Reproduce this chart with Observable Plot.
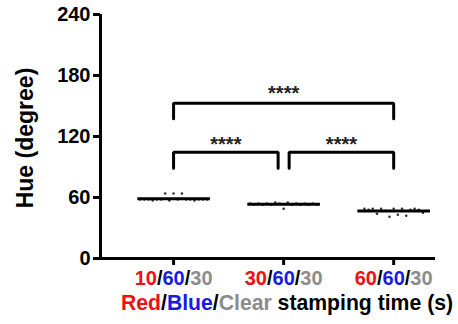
<!DOCTYPE html>
<html>
<head>
<meta charset="utf-8">
<script src="https://cdn.jsdelivr.net/npm/d3@7"></script>
<script src="https://cdn.jsdelivr.net/npm/@observablehq/plot@0.6"></script>
<style>
  html, body { margin: 0; padding: 0; background: #fff; }
  #chart svg { display: block; }
</style>
</head>
<body>
<div id="chart"></div>
<script>
// ---- data ----
const groups = ["10/60/30", "30/60/30", "60/60/30"];
const hueGroup1 = [58, 58, 58, 57, 58, 58, 64, 57, 64, 58, 64, 58, 58, 57, 58, 58, 58];
const hueGroup2 = [54, 53, 54, 53, 54, 53, 55, 54, 49, 55, 53, 54, 53, 54, 53, 54, 53];
const hueGroup3 = [49, 48, 49, 44, 49, 47, 41, 49, 43, 49, 42, 48, 49, 48, 45];
const yTicks = [0, 60, 120, 180, 240];
const comparisons = [
  { x1: 1, x2: 1.95, top: 104.5, foot: 88.8, starY: 117, label: "****" },
  { x1: 2.05, x2: 3, top: 104.5, foot: 88.8, starY: 117, label: "****" },
  { x1: 1, x2: 3, top: 152.7, foot: 137.4, starY: 167, label: "****" }
];
const yLabel = "Hue (degree)";
const xLabelParts = [
  { text: "Red", color: "#ee1111" },
  { text: "/", color: "#000" },
  { text: "Blue", color: "#1a1ae6" },
  { text: "/", color: "#000" },
  { text: "Clear", color: "#8c8c8c" },
  { text: " stamping time (s)", color: "#000" }
];
const partColors = ["#ee1111", "#1a1ae6", "#8c8c8c"];

// ---- derived tables ----
const seriesValues = [hueGroup1, hueGroup2, hueGroup3];
const points = seriesValues.flatMap((vals, gi) =>
  vals.map((v, i) => ({ pos: gi + 1 + (i - (vals.length - 1) / 2) * 0.038, hue: v }))
);
const means = seriesValues.map((vals, gi) => ({ pos: gi + 1, hue: d3.mean(vals) }));
const bracketPts = comparisons.flatMap((c, k) => [
  { k, x: c.x1, y: c.foot }, { k, x: c.x1, y: c.top }, { k, x: c.x2, y: c.top }, { k, x: c.x2, y: c.foot }
]);
const stars = comparisons.map(c => ({ x: (c.x1 + c.x2) / 2, y: c.starY, label: c.label }));

const FONT = "'Liberation Sans', Arial, Helvetica, sans-serif";

const chart = Plot.plot({
  width: 458,
  height: 324,
  marginLeft: 100,
  marginRight: 23,
  marginTop: 14,
  marginBottom: 66,
  style: { fontFamily: FONT, fontWeight: "bold", background: "#fff", color: "#000", overflow: "visible" },
  x: { domain: [0.336, 3.38] },
  y: { domain: [0, 240] },
  marks: [
    Plot.axisY({ ticks: yTicks, tickSize: 7, tickPadding: 3, strokeWidth: 3, fontSize: 20, fontWeight: "bold", label: null }),
    Plot.axisX({ ticks: [1, 2, 3], tickFormat: d => groups[d - 1], tickSize: 7, tickPadding: 5, strokeWidth: 3, fontSize: 20, fontWeight: "bold", label: null }),
    Plot.ruleY([0], { stroke: "#000", strokeWidth: 3 }),
    Plot.ruleX([0.336], { stroke: "#000", strokeWidth: 3 }),
    Plot.dot(points, { x: "pos", y: "hue", r: 1.3, fill: "#333", stroke: null }),
    Plot.link(means, { x1: d => d.pos - 0.33, x2: d => d.pos + 0.33, y1: "hue", y2: "hue", stroke: "#000", strokeWidth: 3 }),
    Plot.line(bracketPts, { x: "x", y: "y", z: "k", stroke: "#000", strokeWidth: 3, strokeLinejoin: "miter", curve: "linear" }),
    Plot.text(stars, { x: "x", y: "y", text: "label", fontSize: 20, fontWeight: "bold", fill: "#222", lineAnchor: "middle", dy: 5 })
  ]
});

document.getElementById("chart").appendChild(chart);

// colour the parts of each x tick label
const svg = d3.select(chart);
svg.selectAll('g[aria-label="x-axis tick label"] text').each(function () {
  const t = d3.select(this);
  const txt = t.text();
  const parts = txt.split("/");
  t.text(null);
  parts.forEach((p, i) => {
    if (i > 0) t.append("tspan").attr("fill", "#000").text("/");
    t.append("tspan").attr("fill", partColors[i]).text(p);
  });
});

// y axis title
svg.append("text")
  .attr("transform", "translate(25,138) rotate(-90)")
  .attr("text-anchor", "middle")
  .attr("dy", "0.35em")
  .attr("font-family", FONT).attr("font-weight", "bold").attr("font-size", 23)
  .attr("fill", "#000")
  .text(yLabel);

// x axis title with coloured words
const xt = svg.append("text")
  .attr("x", 121).attr("y", 310)
  .attr("text-anchor", "start")
  .attr("font-family", FONT).attr("font-weight", "bold").attr("font-size", 21.2);
xLabelParts.forEach(p => xt.append("tspan").attr("fill", p.color).text(p.text));
</script>
</body>
</html>
